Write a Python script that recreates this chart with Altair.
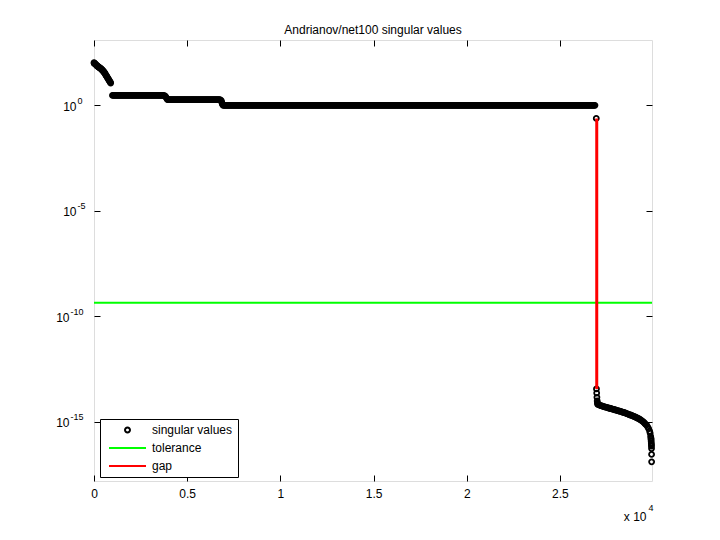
import altair as alt
import pandas as pd

TITLE = "Andrianov/net100 singular values"
FONT = "Liberation Sans"
SERIES = ["singular values", "tolerance", "gap"]
COLORS = ["#000000", "#00ff00", "#ff0000"]

# leading singular values (index, log10 value)
head_idx = [1, 10, 20, 38, 64, 91, 118, 145, 172, 199, 225, 252, 279, 306, 333, 359, 386,
            413, 440, 467, 494, 520, 547, 574, 601, 628, 655, 681, 708, 735, 762, 789,
            815, 842, 869, 896]
head_log = [2.02, 2.00, 1.99, 1.98, 1.97, 1.94, 1.91, 1.89, 1.87, 1.85, 1.83, 1.82, 1.80,
            1.78, 1.77, 1.75, 1.72, 1.70, 1.68, 1.65, 1.63, 1.59, 1.57, 1.53, 1.50, 1.45,
            1.41, 1.38, 1.33, 1.30, 1.26, 1.22, 1.18, 1.14, 1.10, 1.06]

# flat runs of singular values (start index, end index, log10 value)
run_start = [990, 3960, 6930]
run_end = [3780, 6790, 26900]
run_log = [0.47, 0.27, 0.0]

# values in the steps between runs
step_idx = [3810, 3850, 3890, 3930, 6820, 6850, 6880, 6905]
step_log = [0.45, 0.40, 0.34, 0.29, 0.24, 0.16, 0.08, 0.03]

# last value above the gap
upper_idx = [26950]
upper_log = [-0.62]

# small singular values after the gap
tail_idx = [26960, 26972, 26985, 27000, 27010,
            27023, 27077, 27130, 27184, 27238, 27291, 27345, 27399, 27452, 27506,
            27560, 27613, 27667, 27721, 27774, 27828, 27882, 27935, 27989, 28043,
            28096, 28150, 28204, 28257, 28311, 28365, 28418, 28472, 28526, 28579,
            28633, 28687, 28740, 28794, 28848, 28901, 28955, 29009, 29062, 29116,
            29170, 29223, 29277, 29331, 29384, 29438, 29492, 29545, 29599, 29653,
            29706, 29760, 29814, 29841, 29868, 29884,
            29890, 29896, 29902, 29908, 29912, 29915, 29918, 29920]
tail_log = [-13.45, -13.65, -13.85, -14.02, -14.12,
            -14.18, -14.20, -14.22, -14.24, -14.26, -14.27, -14.29, -14.30, -14.32, -14.33,
            -14.34, -14.36, -14.37, -14.38, -14.40, -14.41, -14.42, -14.44, -14.45, -14.47,
            -14.48, -14.49, -14.51, -14.52, -14.54, -14.55, -14.57, -14.58, -14.60, -14.62,
            -14.64, -14.66, -14.68, -14.69, -14.71, -14.73, -14.75, -14.77, -14.79, -14.82,
            -14.84, -14.86, -14.89, -14.92, -14.96, -14.99, -15.03, -15.08, -15.13, -15.17,
            -15.25, -15.34, -15.46, -15.55, -15.70, -15.79,
            -15.85, -15.93, -16.02, -16.10, -16.17, -16.28, -16.56, -16.91]

TOLERANCE = 4.3e-10
GAP_IDX = 26975

x_ticks = [0, 5000, 10000, 15000, 20000, 25000]
y_ticks = [1e0, 1e-5, 1e-10, 1e-15]
y_exponents = ["0", "-5", "-10", "-15"]
X_DOMAIN = [0, 29940]
Y_DOMAIN = [10 ** -17.82, 10 ** 3.1]

# ---- assemble singular values ----
idx = list(head_idx)
lg = list(head_log)
RUN_STEP = 50
for s, e, v in zip(run_start, run_end, run_log):
    pts = list(range(s, e + 1, RUN_STEP))
    idx += pts
    lg += [v] * len(pts)
idx += step_idx + upper_idx + tail_idx
lg += step_log + upper_log + tail_log
sv_df = pd.DataFrame({"idx": idx, "val": [10 ** v for v in lg], "series": SERIES[0]})

tol_df = pd.DataFrame({"val": [TOLERANCE], "series": [SERIES[1]]})
gap_df = pd.DataFrame({"idx": [GAP_IDX], "top": [10 ** upper_log[0]],
                       "bottom": [10 ** tail_log[0]], "series": [SERIES[2]]})

exp_expr = "''"
for v, t in reversed(list(zip(y_ticks, y_exponents))):
    exp_expr = f"abs(datum.value/{v!r} - 1) < 0.01 ? '{t}' : {exp_expr}"

xscale = alt.Scale(domain=X_DOMAIN, nice=False, zero=False)
yscale = alt.Scale(type="log", domain=Y_DOMAIN, nice=False)
cscale = alt.Scale(domain=SERIES, range=COLORS)

R = 0.135
CIRCLE_PATH = f"M{-R},0A{R},{R},0,1,1,{R},0A{R},{R},0,1,1,{-R},0Z"
LINE_PATH = "M-1,0L1,0"
sscale = alt.Scale(domain=SERIES, range=[CIRCLE_PATH, LINE_PATH, LINE_PATH])

legend = alt.Legend(title=None, orient="none", legendX=6, legendY=379,
                    symbolSize=1369, symbolStrokeWidth=2, symbolOffset=3,
                    padding=5, rowPadding=6, clipHeight=12, labelOffset=5,
                    labelFontSize=12, labelFont=FONT, labelColor="black",
                    fillColor="white", strokeColor="black", symbolFillColor="transparent")

common_axis = dict(domain=False, grid=False, tickColor="black", tickWidth=1,
                   offset=-6, tickSize=6, labelFlush=False)

points = alt.Chart(sv_df).mark_point(filled=False, strokeWidth=1.8, opacity=1).encode(
    x=alt.X("idx:Q", scale=xscale,
            axis=alt.Axis(orient="bottom", values=x_ticks, labelExpr="datum.value / 10000",
                          labelPadding=7, labelFontSize=12, labelFont=FONT, labelColor="black",
                          title="x 10", titleX=552, titleY=41, titleAlign="right",
                          titleBaseline="middle", titleFontWeight="normal", titleFontSize=12,
                          titleFont=FONT, titleColor="black", titleAnchor="end",
                          **common_axis)),
    y=alt.Y("val:Q", scale=yscale,
            axis=alt.Axis(orient="left", values=y_ticks, labelExpr="'10'",
                          labelPadding={"condition": {"test": "datum.value < 1e-7", "value": 25},
                                        "value": 18},
                          labelFontSize=12, labelFont=FONT, labelColor="black",
                          labelBaseline="middle", labelOffset=1, title=None, **common_axis)),
    color=alt.Color("series:N", scale=cscale, legend=legend),
    shape=alt.Shape("series:N", scale=sscale, legend=legend),
    size=alt.value(1369),
)

tol = alt.Chart(tol_df).mark_rule(strokeWidth=2).encode(
    y=alt.Y("val:Q", scale=yscale,
            axis=alt.Axis(orient="right", values=y_ticks, labels=False, title=None, **common_axis)),
    color=alt.Color("series:N", legend=None),
)

gap = alt.Chart(gap_df).mark_rule(strokeWidth=3).encode(
    x=alt.X("idx:Q", scale=xscale,
            axis=alt.Axis(orient="top", values=x_ticks, labels=False,
                          title="4", titleX=554, titleY=461.5, titleAlign="left",
                          titleBaseline="middle", titleFontWeight="normal", titleFontSize=9,
                          titleFont=FONT, titleColor="black", titleAnchor="start",
                          **common_axis)),
    y=alt.Y("top:Q", scale=yscale,
            axis=alt.Axis(orient="left", values=y_ticks, labelExpr=exp_expr, ticks=False,
                          tickSize=0, domain=False, grid=False, offset=0, labelAlign="left",
                          labelPadding={"condition": {"test": "datum.value < 1e-7", "value": 24},
                                        "value": 17},
                          labelFontSize=9, labelFont=FONT, labelColor="black",
                          labelBaseline="middle", labelOffset=-5, labelFlush=False, title=None)),
    y2="bottom:Q",
    color=alt.Color("series:N", legend=None),
)

chart = alt.layer(points, tol, gap).resolve_axis(x="independent", y="independent").properties(
    width=558, height=441,
    title=alt.TitleParams(TITLE, fontSize=12, fontWeight="normal", font=FONT, color="black",
                          offset=3, anchor="middle"),
    autosize=alt.AutoSizeParams(type="none"),
    padding={"left": 86, "top": 32, "right": 60, "bottom": 51},
).configure_view(stroke="black", strokeWidth=1).configure(background="white")

chart.save("out.html", embed_options={"renderer": "svg", "actions": False})
